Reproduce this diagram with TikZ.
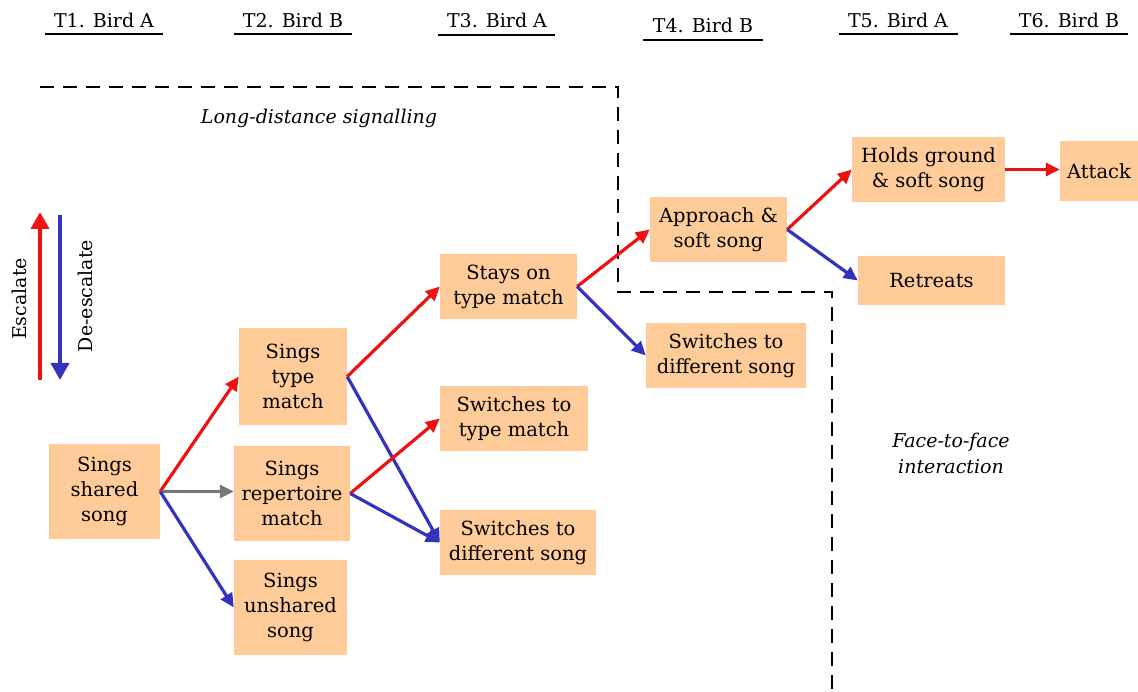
\documentclass[tikz,border=0pt]{standalone}
\usepackage{fontspec}
\setmainfont{DejaVu Serif}
\usetikzlibrary{arrows.meta}
\definecolor{peach}{HTML}{FFCC99}
\definecolor{escred}{HTML}{EE1111}
\definecolor{deblue}{HTML}{3333BB}
\definecolor{midgray}{HTML}{777777}
\begin{document}
\begin{tikzpicture}[x=1pt,y=-1pt,
  box/.style={fill=peach, align=center, inner sep=0pt, font=\fontsize{19.5}{25}\selectfont},
  hdr/.style={font=\fontsize{19}{23}\selectfont, anchor=base},
  conn/.style={line width=3.2pt, -{Triangle[length=14pt,width=13pt]}},
  up/.style={conn, escred},
  down/.style={conn, deblue},
  same/.style={conn, midgray},
  hline/.style={line width=2pt},
  dashline/.style={line width=2.8pt, dash pattern=on 14pt off 9pt},
  it/.style={font=\fontsize{19}{26}\selectfont\itshape, align=center}
]
\useasboundingbox (0,0) rectangle (1138,692);

% headers
\node[hdr] (h1) at (104,28) {T1. Bird A};
\node[hdr] (h2) at (293,28) {T2. Bird B};
\node[hdr] (h3) at (497,28) {T3. Bird A};
\node[hdr] (h4) at (703,33) {T4. Bird B};
\node[hdr] (h5) at (898,28) {T5. Bird A};
\node[hdr] (h6) at (1069,28) {T6. Bird B};
\draw[hline] (45,34) -- (163,34);
\draw[hline] (234,34) -- (352,34);
\draw[hline] (438,35) -- (555,35);
\draw[hline] (643,40) -- (763,40);
\draw[hline] (839,34) -- (958,34);
\draw[hline] (1010,34) -- (1128,34);

% dashed boundary
\draw[dashline] (40,87) -- (618,87) -- (618,292) -- (832,292) -- (832,692);

% region labels
\node[it] (ld) at (319,118) {Long-distance signalling};
\node[it] (ff) at (951,453) {Face-to-face\\interaction};

% escalate / de-escalate
\coordinate (e0) at (40,380);
\coordinate (e1) at (40,212);
\coordinate (d0) at (60,215);
\coordinate (d1) at (60,380);
\draw[escred, line width=4pt, -{Triangle[length=17pt,width=18pt]}] (e0) -- (e1);
\draw[deblue, line width=4pt, -{Triangle[length=17pt,width=18pt]}] (d0) -- (d1);
\node[rotate=90, font=\fontsize{19}{23}\selectfont] (esc) at (19,299) {Escalate};
\node[rotate=90, font=\fontsize{19}{23}\selectfont] (desc) at (85,296) {De-escalate};

% boxes
\node[box, minimum width=111pt, minimum height=95pt] (shared) at (104.5,491.5) {Sings\\shared\\song};
\node[box, minimum width=108pt, minimum height=97pt] (type) at (293,376.5) {Sings\\type\\match};
\node[box, minimum width=116pt, minimum height=95pt] (rep) at (292,493.5) {Sings\\repertoire\\match};
\node[box, minimum width=113pt, minimum height=95pt] (unsh) at (290.5,607.5) {Sings\\unshared\\song};
\node[box, minimum width=137pt, minimum height=65pt] (stay) at (508.5,286.5) {Stays on\\type match};
\node[box, minimum width=148pt, minimum height=65pt] (swtype) at (514,418.5) {Switches to\\type match};
\node[box, minimum width=156pt, minimum height=65pt] (swdiffA) at (518,542.5) {Switches to\\different song};
\node[box, minimum width=137pt, minimum height=65pt] (appr) at (718.5,229.5) {Approach \&\\soft song};
\node[box, minimum width=160pt, minimum height=65pt] (swdiffB) at (726,355.5) {Switches to\\different song};
\node[box, minimum width=153pt, minimum height=65pt] (hold) at (928.5,169.5) {Holds ground\\\& soft song};
\node[box, minimum width=147pt, minimum height=49pt] (retr) at (931.5,280.5) {Retreats};
\node[box, minimum width=78pt, minimum height=60pt] (att) at (1099,171) {Attack};

% connectors
\draw[up] (shared.east) -- (type.west);
\draw[same] (shared.east) -- (shared.east -| rep.west);
\draw[down] (shared.east) -- (unsh.west);
\draw[up] (type.east) -- (stay.west);
\draw[down] (type.east) -- (swdiffA.west);
\draw[up] (rep.east) -- (swtype.west);
\draw[down] (rep.east) -- (swdiffA.west);
\draw[up] (stay.east) -- (appr.west);
\draw[down] (stay.east) -- (swdiffB.west);
\draw[up] (appr.east) -- (hold.west);
\draw[down] (appr.east) -- (retr.west);
\draw[up] (hold.east) -- (hold.east -| att.west);
\end{tikzpicture}
\end{document}
